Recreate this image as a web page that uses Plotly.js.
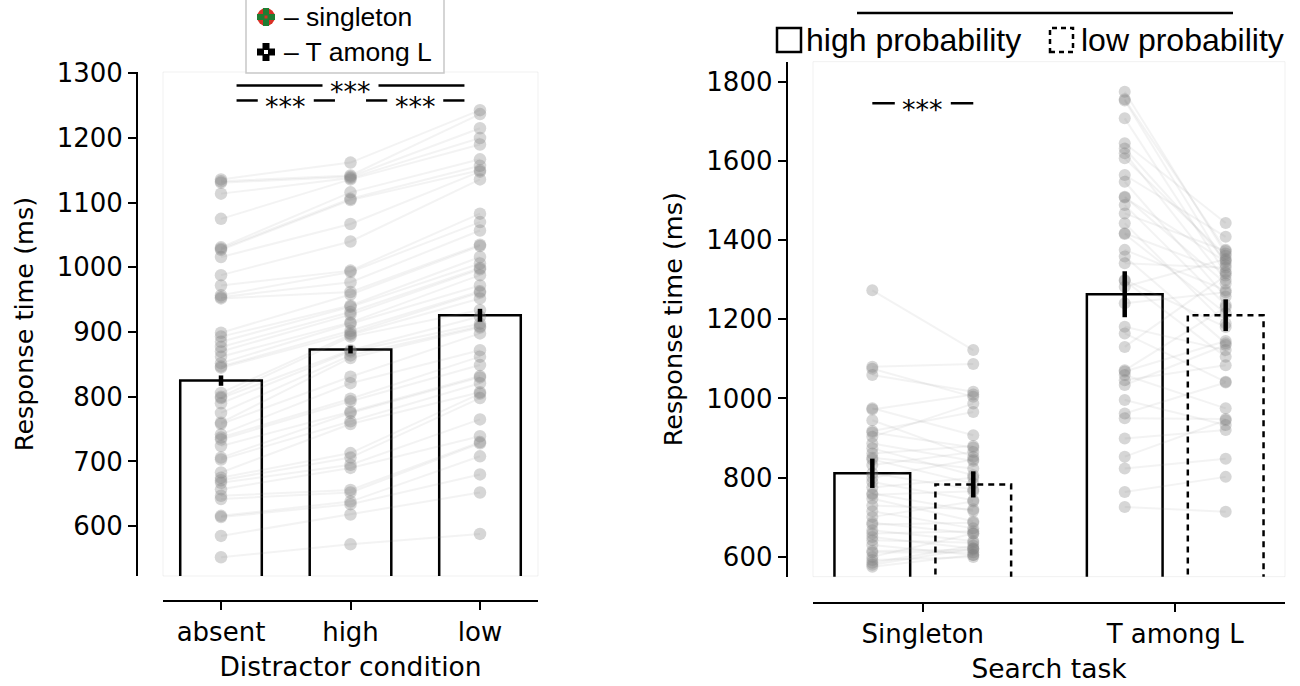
<!DOCTYPE html>
<html>
<head>
<meta charset="utf-8">
<script src="https://cdn.plot.ly/plotly-3.0.1.min.js"></script>
<style>html,body{margin:0;padding:0;background:#fff;}#chart{width:1300px;height:686px;}</style>
</head>
<body>
<div id="chart"></div>
<script>
// ---------------- DATA ----------------
// Left panel: distractor condition
const leftCategories = ['absent', 'high', 'low'];
const leftMeans = [825, 873, 926];
const leftErrors = [8, 6, 10];
// per-participant response times (ms), same participant order in each list
const rtAbsent = [1136, 1133, 1131, 1114, 1075, 1031, 1029, 1027, 1016, 988, 972, 957, 954, 952, 899, 893, 885, 877, 870, 862, 852, 847, 845, 806, 800, 798, 790, 775, 760, 758, 742, 737, 734, 724, 706, 703, 683, 675, 671, 667, 657, 647, 642, 616, 614, 585, 552];
const rtHigh = [1162, 1142, 1140, 1138, 1136, 1116, 1106, 1104, 1067, 1040, 995, 993, 977, 962, 958, 941, 939, 931, 927, 915, 913, 902, 898, 896, 893, 872, 870, 864, 860, 831, 821, 797, 793, 777, 775, 762, 758, 713, 706, 695, 690, 656, 652, 638, 634, 618, 572];
const rtLow = [1243, 1237, 1215, 1200, 1190, 1167, 1157, 1150, 1148, 1136, 1083, 1070, 1057, 1035, 1033, 1016, 1006, 999, 997, 988, 972, 963, 961, 952, 934, 924, 913, 909, 907, 898, 872, 862, 849, 832, 830, 821, 807, 805, 798, 765, 739, 730, 728, 708, 680, 652, 588];
const leftSigPairs = [[0, 2], [0, 1], [1, 2]];
const leftSigLabels = ['***', '***', '***'];
const leftLegendLabels = ['– singleton', '– T among L'];

// Right panel: search task x target probability
const rightCategories = ['Singleton', 'T among L'];
const probLevels = ['high probability', 'low probability'];
const rightMeansHigh = [811, 1263];
const rightMeansLow = [783, 1210];
const rightErrHigh = [37, 58];
const rightErrLow = [33, 40];
const singletonHigh = [1273, 1080, 1075, 1059, 975, 972, 945, 918, 914, 903, 886, 874, 861, 850, 846, 832, 811, 800, 789, 775, 760, 757, 747, 730, 715, 701, 686, 682, 667, 659, 650, 642, 630, 615, 611, 600, 592, 585, 580, 575];
const singletonLow = [1122, 1087, 1004, 1017, 907, 1010, 853, 966, 876, 987, 842, 806, 880, 823, 785, 865, 770, 846, 743, 800, 716, 766, 690, 720, 672, 740, 659, 686, 640, 665, 621, 636, 605, 618, 612, 659, 600, 628, 621, 605];
const tamongHigh = [1774, 1755, 1752, 1707, 1644, 1631, 1619, 1606, 1564, 1547, 1509, 1507, 1488, 1467, 1442, 1417, 1415, 1375, 1358, 1341, 1299, 1297, 1282, 1240, 1181, 1164, 1130, 1071, 1068, 1059, 1046, 1034, 996, 962, 950, 899, 853, 823, 764, 726];
const tamongLow = [1366, 1375, 1337, 1316, 1443, 1349, 1299, 1360, 1408, 1257, 1290, 1345, 1236, 1372, 1189, 1320, 1215, 1273, 1139, 1330, 1180, 1105, 1352, 1268, 1122, 1042, 1310, 1230, 1145, 975, 1084, 1135, 933, 1040, 948, 920, 945, 848, 802, 714];
const rightSigLabel = '***';

// ---------------- STYLE / LAYOUT CONSTANTS ----------------
const W = 1300, H = 686;
const px = v => v / W;
const py = v => 1 - v / H;
const FD = 'DejaVu Sans, Verdana, sans-serif';
const FA = 'Liberation Sans, Arial, Helvetica, sans-serif';
const DOT = 'rgba(128,128,128,0.32)';
const CONN = 'rgba(150,150,150,0.11)';
const BARW_L = 0.63, BARW_R = 0.30, OFF_R = 0.2;
const ERR = {type: 'data', visible: true, color: '#000', thickness: 4.5, width: 0};

const L = {xr: [-0.448, 2.448], yr: [523, 1302], xd: [px(163), px(538)], yd: [py(576), py(72)], ypos: px(137), xpos: py(601)};
const R = {xr: [-0.435, 1.435], yr: [550, 1850], xd: [px(813), px(1285)], yd: [py(576.7), py(61.7)], ypos: px(786.7), xpos: py(603)};

const traces = [];

// ---- left connecting lines ----
(function () {
  const xs = [], ys = [];
  for (let i = 0; i < rtAbsent.length; i++) {
    xs.push(0, 1, 2, null);
    ys.push(rtAbsent[i], rtHigh[i], rtLow[i], null);
  }
  traces.push({type: 'scatter', mode: 'lines', x: xs, y: ys, xaxis: 'x', yaxis: 'y', line: {color: CONN, width: 2}, hoverinfo: 'skip'});
})();
[rtAbsent, rtHigh, rtLow].forEach((arr, ci) => {
  traces.push({type: 'scatter', mode: 'markers', x: arr.map(() => ci), y: arr, xaxis: 'x', yaxis: 'y',
    marker: {color: DOT, size: 12.5, line: {width: 0}}, name: leftCategories[ci]});
});
traces.push({type: 'bar', x: leftCategories.map((c, i) => i), y: leftMeans, width: BARW_L, xaxis: 'x', yaxis: 'y',
  marker: {color: 'rgba(0,0,0,0)', line: {color: '#000', width: 2.5}}});

// ---- right connecting lines ----
(function () {
  const xs = [], ys = [];
  [[singletonHigh, singletonLow], [tamongHigh, tamongLow]].forEach((pair, g) => {
    for (let i = 0; i < pair[0].length; i++) {
      xs.push(g - OFF_R, g + OFF_R, null);
      ys.push(pair[0][i], pair[1][i], null);
    }
  });
  traces.push({type: 'scatter', mode: 'lines', x: xs, y: ys, xaxis: 'x2', yaxis: 'y2', line: {color: CONN, width: 2}, hoverinfo: 'skip'});
})();
[[singletonHigh, 0, -OFF_R], [singletonLow, 0, OFF_R], [tamongHigh, 1, -OFF_R], [tamongLow, 1, OFF_R]].forEach(([arr, g, o]) => {
  traces.push({type: 'scatter', mode: 'markers', x: arr.map(() => g + o), y: arr, xaxis: 'x2', yaxis: 'y2',
    marker: {color: DOT, size: 12, line: {width: 0}}});
});
// high probability bars (solid)
traces.push({type: 'bar', x: rightCategories.map((c, g) => g - OFF_R), y: rightMeansHigh, width: BARW_R, xaxis: 'x2', yaxis: 'y2',
  name: probLevels[0], marker: {color: 'rgba(0,0,0,0)', line: {color: '#000', width: 2.5}}});
// low probability bars (dashed outline)
(function () {
  const xs = [], ys = [];
  rightMeansLow.forEach((v, g) => {
    const c = g + OFF_R;
    xs.push(c - BARW_R / 2, c - BARW_R / 2, c + BARW_R / 2, c + BARW_R / 2, null);
    ys.push(0, v, v, 0, null);
  });
  traces.push({type: 'scatter', mode: 'lines', x: xs, y: ys, xaxis: 'x2', yaxis: 'y2', name: probLevels[1],
    line: {color: '#000', width: 2.5, dash: '6px,5px'}});
})();

// ---- error bars (drawn last, on top of the dots) ----
traces.push({type: 'scatter', mode: 'markers', x: leftMeans.map((v, i) => i), y: leftMeans, xaxis: 'x', yaxis: 'y',
  marker: {color: 'rgba(0,0,0,0)', size: 1}, error_y: Object.assign({array: leftErrors}, ERR)});
traces.push({type: 'scatter', mode: 'markers', x: rightMeansHigh.map((v, g) => g - OFF_R), y: rightMeansHigh, xaxis: 'x2', yaxis: 'y2',
  marker: {color: 'rgba(0,0,0,0)', size: 1}, error_y: Object.assign({array: rightErrHigh}, ERR)});
traces.push({type: 'scatter', mode: 'markers', x: rightMeansLow.map((v, g) => g + OFF_R), y: rightMeansLow, xaxis: 'x2', yaxis: 'y2',
  marker: {color: 'rgba(0,0,0,0)', size: 1}, error_y: Object.assign({array: rightErrLow}, ERR)});

// ---------------- AXES ----------------
function xAxis(cfg, cats, title) {
  return {domain: cfg.xd, anchor: 'free', position: cfg.xpos, range: cfg.xr, tickmode: 'array',
    tickvals: cats.map((c, i) => i), ticktext: cats, showline: true, linecolor: '#000', linewidth: 2,
    ticks: 'outside', ticklen: 8, tickwidth: 2, tickcolor: '#000', showgrid: false, zeroline: false,
    tickfont: {family: FD, size: 26, color: '#000'}, title: {text: title, font: {family: FD, size: 26.5, color: '#000'}, standoff: 10}, fixedrange: true};
}
function yAxis(cfg, tv, title) {
  return {domain: cfg.yd, anchor: 'free', position: cfg.ypos, range: cfg.yr, tickmode: 'array', tickvals: tv,
    showline: true, linecolor: '#000', linewidth: 2, ticks: 'outside', ticklen: 8, tickwidth: 2, tickcolor: '#000',
    showgrid: false, zeroline: false, tickfont: {family: FD, size: 26, color: '#000'},
    title: {text: title, font: {family: FD, size: 25.5, color: '#000'}, standoff: 15}, fixedrange: true};
}

const shapes = [], annotations = [];
// faint plot-area frames
[['x', 'y'], ['x2', 'y2']].forEach(([xa, ya]) => {
  shapes.push({type: 'rect', xref: xa + ' domain', yref: ya + ' domain', x0: 0, x1: 1, y0: 0, y1: 1,
    line: {color: 'rgba(0,0,0,0.06)', width: 1}, layer: 'below'});
});

// significance brackets
const GAP = 28;
function bracket(xa, ya, x0, x1, y, label, pxPerUnit) {
  const mid = (x0 + x1) / 2, g = GAP / pxPerUnit;
  shapes.push({type: 'line', xref: xa, yref: ya, x0: x0, x1: mid - g, y0: y, y1: y, line: {color: '#000', width: 2.5}});
  shapes.push({type: 'line', xref: xa, yref: ya, x0: mid + g, x1: x1, y0: y, y1: y, line: {color: '#000', width: 2.5}});
  annotations.push({xref: xa, yref: ya, x: mid, y: y, text: label, showarrow: false, yshift: -6,
    font: {family: FD, size: 27, color: '#000'}});
}
const pxuL = (538 - 163) / (L.xr[1] - L.xr[0]);
const pxuR = (1285 - 813) / (R.xr[1] - R.xr[0]);
const leftSigY = [1281, 1258, 1258];
const INSET_L = 0.12;
leftSigPairs.forEach((p, k) => bracket('x', 'y', p[0] + INSET_L, p[1] - INSET_L, leftSigY[k], leftSigLabels[k], pxuL));
bracket('x2', 'y2', -OFF_R, OFF_R, 1745, rightSigLabel, pxuR);

// left legend box (top part runs off the figure)
shapes.push({type: 'rect', xref: 'paper', yref: 'paper', x0: px(246), x1: px(444), y0: py(73), y1: py(-20),
  line: {color: '#c8c8c8', width: 1.5}, fillcolor: 'rgba(255,255,255,0.9)'});
// singleton marker: red disc with green cross
(function () {
  const cx = 266, cy = 17, r = 9;
  shapes.push({type: 'circle', xref: 'paper', yref: 'paper', x0: px(cx - r), x1: px(cx + r), y0: py(cy + r), y1: py(cy - r), fillcolor: '#d93025', line: {width: 0}});
  shapes.push({type: 'rect', xref: 'paper', yref: 'paper', x0: px(cx - 9), x1: px(cx + 9), y0: py(cy + 3), y1: py(cy - 3), fillcolor: '#1e7d32', line: {width: 0}});
  shapes.push({type: 'rect', xref: 'paper', yref: 'paper', x0: px(cx - 3), x1: px(cx + 3), y0: py(cy + 9), y1: py(cy - 9), fillcolor: '#1e7d32', line: {width: 0}});
  shapes.push({type: 'rect', xref: 'paper', yref: 'paper', x0: px(cx - 1.5), x1: px(cx + 1.5), y0: py(cy + 1.5), y1: py(cy - 1.5), fillcolor: '#d93025', line: {width: 0}});
})();
// T among L marker: black cross with white centre
(function () {
  const cx = 266, cy = 52;
  shapes.push({type: 'rect', xref: 'paper', yref: 'paper', x0: px(cx - 9), x1: px(cx + 9), y0: py(cy + 3.5), y1: py(cy - 3.5), fillcolor: '#000', line: {width: 0}});
  shapes.push({type: 'rect', xref: 'paper', yref: 'paper', x0: px(cx - 3.5), x1: px(cx + 3.5), y0: py(cy + 9), y1: py(cy - 9), fillcolor: '#000', line: {width: 0}});
  shapes.push({type: 'rect', xref: 'paper', yref: 'paper', x0: px(cx - 2), x1: px(cx + 2), y0: py(cy + 2), y1: py(cy - 2), fillcolor: '#fff', line: {width: 0}});
})();
[17, 52].forEach((yy, i) => {
  annotations.push({xref: 'paper', yref: 'paper', x: px(282), y: py(yy), xanchor: 'left', yanchor: 'middle', showarrow: false,
    text: leftLegendLabels[i], font: {family: FA, size: 26.5, color: '#000'}});
});

// right legend
shapes.push({type: 'line', xref: 'paper', yref: 'paper', x0: px(857), x1: px(1233), y0: py(13), y1: py(13), line: {color: '#000', width: 2.5}});
shapes.push({type: 'rect', xref: 'paper', yref: 'paper', x0: px(777), x1: px(801), y0: py(52), y1: py(28), line: {color: '#000', width: 2.5}});
shapes.push({type: 'rect', xref: 'paper', yref: 'paper', x0: px(1050), x1: px(1073), y0: py(52), y1: py(28), line: {color: '#000', width: 2.5, dash: '5px,4px'}});
annotations.push({xref: 'paper', yref: 'paper', x: px(804), y: py(40), xanchor: 'left', yanchor: 'middle', showarrow: false,
  text: probLevels[0], font: {family: FA, size: 32, color: '#000'}});
annotations.push({xref: 'paper', yref: 'paper', x: px(1079), y: py(40), xanchor: 'left', yanchor: 'middle', showarrow: false,
  text: probLevels[1], font: {family: FA, size: 32, color: '#000'}});

const layout = {
  width: W, height: H, margin: {l: 0, r: 0, t: 0, b: 0}, paper_bgcolor: '#fff', plot_bgcolor: 'rgba(0,0,0,0)',
  showlegend: false, barmode: 'overlay', hovermode: false,
  xaxis: xAxis(L, leftCategories, 'Distractor condition'),
  yaxis: yAxis(L, [600, 700, 800, 900, 1000, 1100, 1200, 1300], 'Response time (ms)'),
  xaxis2: xAxis(R, rightCategories, 'Search task'),
  yaxis2: yAxis(R, [600, 800, 1000, 1200, 1400, 1600, 1800], 'Response time (ms)'),
  shapes: shapes, annotations: annotations
};

Plotly.newPlot('chart', traces, layout, {staticPlot: true, displayModeBar: false});
</script>
</body>
</html>
